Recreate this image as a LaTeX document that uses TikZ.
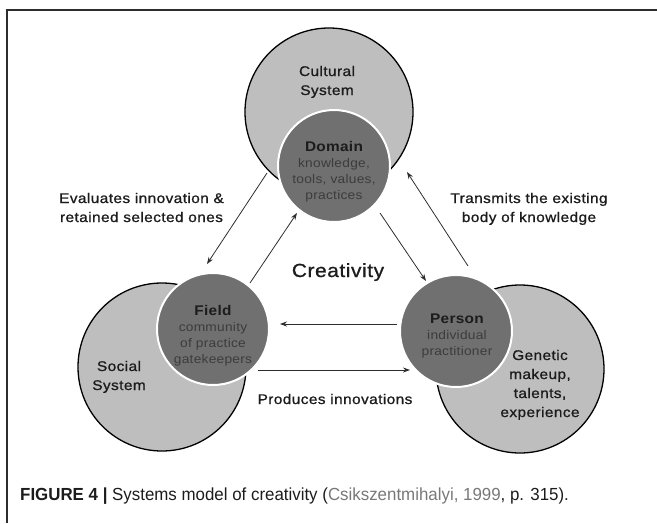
\documentclass[tikz,border=0pt]{standalone}
\usepackage{fontspec}
\setmainfont{Liberation Sans}
% medium-weight, slightly wide sans for the diagram labels
\newfontfamily\medfont[FakeStretch=1.1,LetterSpace=3,FakeBold=0.9]{Liberation Sans}
\newfontfamily\lightfont[FakeStretch=1.1,LetterSpace=2]{Liberation Sans}
\newfontfamily\capfont[FakeStretch=0.965]{Liberation Sans}
\usetikzlibrary{arrows.meta}
\definecolor{outerfill}{RGB}{190,190,190}
\definecolor{innerfill}{RGB}{112,112,112}
\definecolor{innertext}{RGB}{60,60,60}
\definecolor{inktext}{RGB}{28,28,28}
\definecolor{linkgray}{RGB}{120,120,120}
\definecolor{framegray}{RGB}{45,45,45}
\begin{document}
\begin{tikzpicture}[x=1pt,y=-1pt,
  outer/.style={circle,fill=outerfill,draw=black,line width=1.3pt,minimum size=168pt,inner sep=0pt},
  inner/.style={circle,fill=innerfill,draw=white,line width=2pt,minimum size=112pt,inner sep=0pt},
  sysname/.style={align=center,anchor=base,text=inktext,inner sep=0pt,
    font=\medfont\fontsize{14}{19}\selectfont},
  subname/.style={align=center,anchor=base,text=innertext,inner sep=0pt,
    font=\lightfont\fontsize{12.5}{16}\selectfont},
  flowlabel/.style={align=center,anchor=base,text=inktext,inner sep=0pt,
    font=\medfont\fontsize{14}{19}\selectfont},
  flow/.style={draw=framegray,line width=0.8pt,-{Stealth[length=7pt,width=5pt]}}
]
\useasboundingbox (0,0) rectangle (657,523);

% frame
\draw[framegray,line width=1.5pt] (7,523) -- (7,10) -- (657,10);

% outer systems
\node[outer] (cult) at (329,112) {};
\node[outer] (soc)  at (162,367) {};
\node[outer] (gen)  at (520,369) {};

% inner components
\node[inner] (dom) at (334,166) {};
\node[inner] (fld) at (213,329) {};
\node[inner] (per) at (456,331) {};

% labels of the outer systems (positioned at the baseline of the last line)
\node[sysname] (cultlbl) at (327,95) {Cultural\\System};
\node[sysname] (soclbl)  at (119,390) {Social\\System};
\node[sysname] (genlbl)  at (540,417) {Genetic\\makeup,\\talents,\\experience};

% labels of the inner components
\node[subname] (domlbl) at (334,199) {\textcolor{inktext}{\fontsize{14}{16}\selectfont\bfseries Domain}\\knowledge,\\tools, values,\\practices};
\node[subname] (fldlbl) at (213,363) {\textcolor{inktext}{\fontsize{14}{15.5}\selectfont\bfseries Field}\\community\\of practice\\gatekeepers};
\node[subname] (perlbl) at (457,355) {\textcolor{inktext}{\fontsize{14}{16}\selectfont\bfseries Person}\\individual\\practitioner};

% centre title
\node[flowlabel,font=\medfont\fontsize{19}{22}\selectfont] (crea) at (338,277) {Creativity};

% arrow end points
\coordinate (evA) at (267,173);
\coordinate (evB) at (207,264);
\coordinate (fdA) at (250,283);
\coordinate (fdB) at (297,213);
\coordinate (dpA) at (380,213);
\coordinate (dpB) at (426,281);
\coordinate (trA) at (468,266);
\coordinate (trB) at (407,172);
\coordinate (pfA) at (397,324);
\coordinate (pfB) at (280,324);
\coordinate (fpA) at (258,370);
\coordinate (fpB) at (410,370);

\draw[flow] (evA) -- (evB);
\draw[flow] (fdA) -- (fdB);
\draw[flow] (dpA) -- (dpB);
\draw[flow] (trA) -- (trB);
\draw[flow] (pfA) -- (pfB);
\draw[flow] (fpA) -- (fpB);

% flow labels
\node[flowlabel] (evlbl) at (141.5,222) {Evaluates innovation \&\\retained selected ones};
\node[flowlabel] (trlbl) at (529,222) {Transmits the existing\\body of knowledge};
\node[flowlabel] (prlbl) at (335,404) {Produces innovations};

% caption
\node[anchor=base west,inner sep=0pt,font=\capfont\fontsize{17.5}{20}\selectfont,text=inktext] (cap) at (20,500)
  {\textbf{FIGURE 4 |} Systems model of creativity (\textcolor{linkgray}{Csikszentmihalyi, 1999}, p. 315).};
\end{tikzpicture}
\end{document}
